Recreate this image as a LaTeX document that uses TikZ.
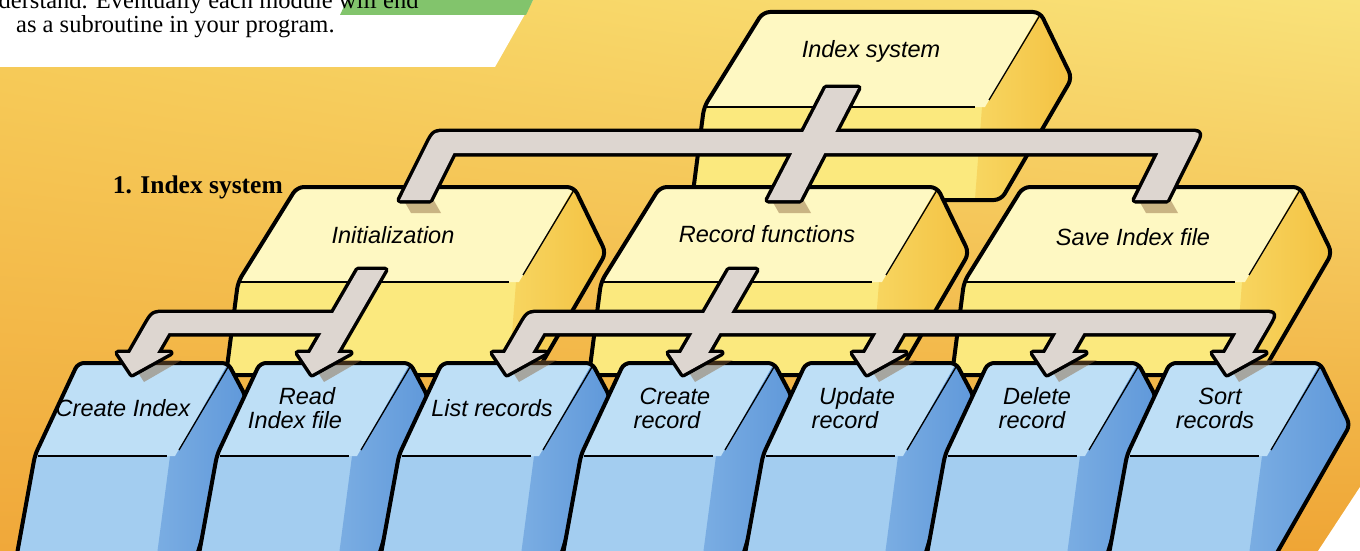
\documentclass[tikz,border=0pt]{standalone}
\usepackage{fontspec}
\setmainfont{Liberation Serif}
\newfontfamily\keyfont{Liberation Sans}
\usetikzlibrary{calc,shadings}

\definecolor{bgA}{HTML}{F7CF5C}
\definecolor{bgB}{HTML}{F9E27A}
\definecolor{bgC}{HTML}{F0A83A}
\definecolor{bgD}{HTML}{EFA535}
\definecolor{bandgreen}{HTML}{82C46C}
\definecolor{ytop}{HTML}{FEF8C2}
\definecolor{yfront}{HTML}{FBE97E}
\definecolor{yright}{HTML}{F3BF3E}
\definecolor{btop}{HTML}{BEDFF6}
\definecolor{bfront}{HTML}{A3CDF0}
\definecolor{bright}{HTML}{5A94D8}
\definecolor{pipegray}{HTML}{DDD6D0}
\definecolor{shadowbrown}{HTML}{8A6238}

\tikzset{
  boxline/.style={draw=black, line width=4pt, line join=round},
  thinline/.style={draw=black, line width=1.3pt},
  pipeout/.style={draw=black, line width=7pt, line join=round},
  ylabel/.style={font=\keyfont\itshape\fontsize{23.5}{25}\selectfont, inner sep=0pt},
  klabel/.style={font=\keyfont\itshape\fontsize{23.5}{24}\selectfont, inner sep=0pt, align=center},
  castshadow/.style={fill=shadowbrown, fill opacity=0.45},
}

% yellow module box: name, x0, y0 (top-left corner), width, label dx, label dy, text
\newcommand\YBox[7]{%
  \begin{scope}
    \clip[rounded corners=7pt] (#2,#3) -- ({#2+#4},#3) -- ({#2+#4+32},{#3+66})
      -- ({#2+#4-39},{#3+188}) -- ({#2-71},{#3+188}) -- ({#2-59},{#3+95}) -- cycle;
    \fill[yfront] ({#2-90},{#3-10}) rectangle ({#2+#4+50},{#3+200});
    \shade[left color=yfront!55!yright, right color=yright]
      ({#2+#4},#3) -- ({#2+#4+45},{#3+66}) -- ({#2+#4-30},{#3+200})
      -- ({#2+#4-66},{#3+200}) -- ({#2+#4-58},{#3+95}) -- ({#2+#4-51},{#3+88}) -- cycle;
    \fill[ytop] (#2,#3) -- ({#2+#4},#3) -- ({#2+#4-55},{#3+95}) -- ({#2-70},{#3+95})
      -- ({#2-70},{#3-10}) -- cycle;
  \end{scope}
  \draw[thinline] ({#2+#4},{#3+3}) -- ({#2+#4-51},{#3+88});
  \draw[thinline] ({#2-57},{#3+95}) -- ({#2+#4-65},{#3+95});
  \draw[boxline, rounded corners=7pt] (#2,#3) -- ({#2+#4},#3) -- ({#2+#4+32},{#3+66})
      -- ({#2+#4-39},{#3+188}) -- ({#2-71},{#3+188}) -- ({#2-59},{#3+95}) -- cycle;
  \node[ylabel] (#1) at ({#2+#5},{#3+#6}) {#7};
}

% blue key: name, x0, bevel dx, bevel dy, lower right dx, label dx, text
\newcommand\BKey[7]{%
  \begin{scope}
    \clip[rounded corners=6pt] (#2,363) -- ({#2+150},363) -- ({#2+#3},{363+#4})
      -- ({#2+#5},565) -- ({#2-63},565) -- ({#2-43},455) -- cycle;
    \fill[bfront] ({#2-70},355) rectangle ({#2+#3+10},570);
    \shade[left color=bfront!45!bright, right color=bright]
      ({#2+150},363) -- ({#2+#3+20},{363+#4}) -- ({#2+#5+20},570)
      -- ({#2+77},570) -- ({#2+92},456) -- ({#2+101},450) -- cycle;
    \fill[btop] (#2,363) -- ({#2+150},363) -- ({#2+97},456) -- ({#2-50},456)
      -- ({#2-50},355) -- cycle;
  \end{scope}
  \draw[thinline] ({#2+150},367) -- ({#2+101},450);
  \draw[thinline] ({#2-40},456) -- ({#2+89},456);
  \draw[boxline, rounded corners=6pt] (#2,363) -- ({#2+150},363) -- ({#2+#3},{363+#4})
      -- ({#2+#5},565) -- ({#2-63},565) -- ({#2-43},455) -- cycle;
  \node[klabel] (#1) at ({#2+#6},408) {#7};
}

% cast shadow of an arrow head whose tip is at x = #1
\newcommand\HeadShadow[1]{%
  \fill[castshadow] ({#1-2},360) -- ({#1+50},360) -- ({#1+12},382) -- cycle;
}

\begin{document}
\begin{tikzpicture}[x=1pt,y=-1pt]
\useasboundingbox (0,0) rectangle (1360,551);
\clip (0,0) rectangle (1360,551);

% backdrop
\shade[upper left=bgA, upper right=bgB, lower left=bgC, lower right=bgD]
  (0,0) rectangle (1360,551);
\fill[white] (0,0) -- (533,0) -- (495,67) -- (0,67) -- cycle;
\fill[bandgreen] (347,0) -- (533,0) -- (526,15) -- (340,15) -- cycle;
\fill[white] (1360,487) -- (1360,551) -- (1318,551) -- cycle;

% page text
\node[anchor=base west, inner sep=0pt, font=\fontsize{24.5}{25}\selectfont]
  (txtA) at (-26,9) {understand. Eventually each module will end};
\node[anchor=base west, inner sep=0pt, font=\fontsize{24.5}{25}\selectfont]
  (txtB) at (16,33) {as a subroutine in your program.};
\node[anchor=base east, inner sep=0pt, font=\bfseries\fontsize{25.5}{27}\selectfont]
  (title) at (283,193) {1. Index system};

% top level and second level modules
\YBox{idx}{763}{12}{277}{108}{39}{Index system}
\YBox{init}{297}{187}{277}{96}{48}{Initialization}
\YBox{recf}{660}{187}{277}{107}{47}{Record functions}
\YBox{save}{1023}{187}{277}{110}{50}{Save Index file}

% connector: Index system -> second level
\fill[castshadow] (403,199) -- (433,199) -- (441,213) -- (411,213) -- cycle;
\fill[castshadow] (771,199) -- (803,199) -- (811,213) -- (779,213) -- cycle;
\fill[castshadow] (1138,199) -- (1170,199) -- (1178,213) -- (1146,213) -- cycle;
\draw[pipeout] (400,200) -- (427.7,144.5) .. controls (434,132) .. (448,132)
  -- (1187,132) .. controls (1201,132) .. (1194.7,144.5) -- (1167,200) -- (1135,200)
  -- (1158.5,153) -- (453.5,153) -- (430,200) -- cycle;
\draw[pipeout] (826,88) -- (858,88) -- (800,200) -- (768,200) -- cycle;
\fill[pipegray] (400,200) -- (427.7,144.5) .. controls (434,132) .. (448,132)
  -- (1187,132) .. controls (1201,132) .. (1194.7,144.5) -- (1167,200) -- (1135,200)
  -- (1158.5,153) -- (453.5,153) -- (430,200) -- cycle;
\fill[pipegray] (826,88) -- (858,88) -- (800,200) -- (768,200) -- cycle;

% third level modules
\BKey{k1}{78}{168}{34}{116}{45}{Create Index}
\BKey{k2}{260}{168}{34}{116}{35}{\hspace*{24pt}Read\\Index file}
\BKey{k3}{442}{168}{34}{116}{50}{List records}
\BKey{k4}{624}{168}{34}{116}{43}{\hspace*{16pt}Create\\record}
\BKey{k5}{806}{168}{34}{116}{39}{\hspace*{24pt}Update\\record}
\BKey{k6}{988}{168}{34}{116}{44}{\hspace*{10pt}Delete\\record}
\BKey{k7}{1170}{180}{62}{100}{45}{\hspace*{10pt}Sort\\records}

% arrow shadows on the keys
\HeadShadow{132}
\HeadShadow{312}
\HeadShadow{507}
\HeadShadow{683}
\HeadShadow{867}
\HeadShadow{1047}
\HeadShadow{1227}

% connector: Initialization -> Create Index, Read Index file
\draw[pipeout] (358,270) -- (385,270) -- (337,353) -- (350,353) -- (312,374)
  -- (298,353) -- (310,353) -- cycle;
\draw[pipeout] (338,313) -- (167,313) .. controls (153,313) .. (146,325.1)
  -- (130,353) -- (118,353) -- (132,374) -- (170,353) -- (157,353)
  -- (168.6,333) -- (338,333) -- cycle;
\fill[pipegray] (358,270) -- (385,270) -- (337,353) -- (350,353) -- (312,374)
  -- (298,353) -- (310,353) -- cycle;
\fill[pipegray] (338,313) -- (167,313) .. controls (153,313) .. (146,325.1)
  -- (130,353) -- (118,353) -- (132,374) -- (170,353) -- (157,353)
  -- (168.6,333) -- (338,333) -- cycle;

% connector: Record functions -> record operations
\draw[pipeout] (729,270) -- (756,270) -- (708,353) -- (721,353) -- (683,374)
  -- (669,353) -- (681,353) -- cycle;
\draw[pipeout] (542,313) -- (1261,313) .. controls (1275.2,313) .. (1268.2,325.1)
  -- (1252,353) -- (1265,353) -- (1227,374) -- (1213,353) -- (1225,353)
  -- (1236.6,333) -- (543.6,333) -- (532,353) -- (545,353) -- (507,374)
  -- (493,353) -- (505,353) -- (521.2,325.1) .. controls (528.2,313) .. (542,313) -- cycle;
\draw[pipeout] (885.3,318) -- (912.3,318) -- (892,353) -- (905,353) -- (867,374)
  -- (853,353) -- (865,353) -- cycle;
\draw[pipeout] (1065.3,318) -- (1092.3,318) -- (1072,353) -- (1085,353) -- (1047,374)
  -- (1033,353) -- (1045,353) -- cycle;
\fill[pipegray] (729,270) -- (756,270) -- (708,353) -- (721,353) -- (683,374)
  -- (669,353) -- (681,353) -- cycle;
\fill[pipegray] (542,313) -- (1261,313) .. controls (1275.2,313) .. (1268.2,325.1)
  -- (1252,353) -- (1265,353) -- (1227,374) -- (1213,353) -- (1225,353)
  -- (1236.6,333) -- (543.6,333) -- (532,353) -- (545,353) -- (507,374)
  -- (493,353) -- (505,353) -- (521.2,325.1) .. controls (528.2,313) .. (542,313) -- cycle;
\fill[pipegray] (885.3,318) -- (912.3,318) -- (892,353) -- (905,353) -- (867,374)
  -- (853,353) -- (865,353) -- cycle;
\fill[pipegray] (1065.3,318) -- (1092.3,318) -- (1072,353) -- (1085,353) -- (1047,374)
  -- (1033,353) -- (1045,353) -- cycle;
\end{tikzpicture}
\end{document}
